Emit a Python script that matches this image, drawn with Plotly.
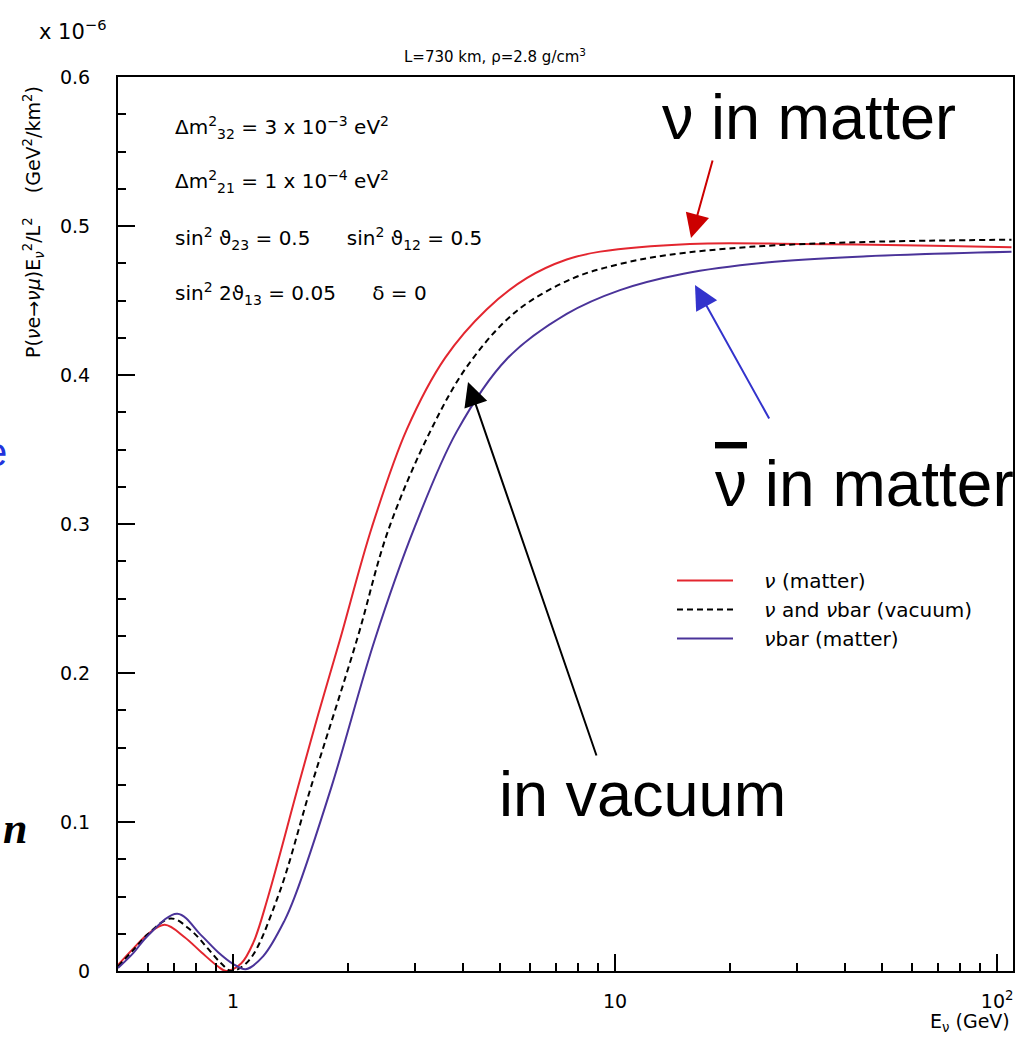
import plotly.graph_objects as go

# ---------------- data (y in units of 1e-6 GeV^2/km^2) -------------
E_nu_matter = [0.50, 0.548, 0.60, 0.663, 0.747, 0.826, 0.914, 0.96, 1.05, 1.13, 1.235, 1.48, 1.67,
               1.905, 2.31, 2.85, 3.59, 4.61, 5.87, 7.47, 9.14, 15.7, 30.5, 68.0, 109.0]
P_nu_matter = [0.004, 0.015, 0.025, 0.031, 0.0227, 0.0126, 0.003, 0.0, 0.005, 0.019, 0.0497, 0.1236, 0.172,
               0.2223, 0.298, 0.3635, 0.4115, 0.444, 0.465, 0.4775, 0.4828, 0.488, 0.488, 0.4867, 0.4857]

E_vacuum = [0.50, 0.548, 0.60, 0.688, 0.778, 0.86, 0.932, 0.99, 1.10, 1.31, 1.60, 2.11,
            2.55, 3.28, 4.13, 5.53, 7.78, 10.3, 13.7, 22.6, 45.6, 109.0]
P_vacuum = [0.003, 0.014, 0.025, 0.0353, 0.027, 0.015, 0.005, 0.0, 0.007, 0.0497, 0.1236, 0.2223,
            0.296, 0.362, 0.407, 0.443, 0.465, 0.4745, 0.4805, 0.486, 0.4893, 0.4908]

E_nubar_matter = [0.50, 0.548, 0.60, 0.715, 0.826, 0.914, 1.0, 1.08, 1.20, 1.365, 1.45, 1.81,
                  2.35, 2.99, 3.85, 5.2, 7.47, 10.3, 15.1, 24.9, 45.6, 109.0]
P_nubar_matter = [0.002, 0.012, 0.024, 0.0385, 0.0239, 0.0126, 0.0048, 0.0012, 0.010, 0.034, 0.0497, 0.1236,
                  0.2223, 0.298, 0.362, 0.4106, 0.441, 0.457, 0.468, 0.4755, 0.4797, 0.4827]

GAP = "\u2002\u2002 "
series_names = [GAP + "<i>ν</i> (matter)", GAP + "<i>ν</i> and <i>ν</i>bar (vacuum)", GAP + "<i>ν</i>bar (matter)"]

x_major_ticks = [1, 10, 100]
x_major_labels = ["1", "10", "10<sup>2</sup>"]
x_minor_ticks = [0.6, 0.7, 0.8, 0.9, 2, 3, 4, 5, 6, 7, 8, 9, 20, 30, 40, 50, 60, 70, 80, 90]
y_ticks = [0, 0.1, 0.2, 0.3, 0.4, 0.5, 0.6]
y_labels = ["0", "0.1", "0.2", "0.3", "0.4", "0.5", "0.6"]

SP = "\u2002\u2002\u2002 "
param_lines = [
    "Δm<sup>2</sup><sub>32</sub> = 3 x 10<sup>−3</sup> eV<sup>2</sup>",
    "Δm<sup>2</sup><sub>21</sub> = 1 x 10<sup>−4</sup> eV<sup>2</sup>",
    "sin<sup>2</sup> ϑ<sub>23</sub> = 0.5" + SP + "sin<sup>2</sup> ϑ<sub>12</sub> = 0.5",
    "sin<sup>2</sup> 2ϑ<sub>13</sub> = 0.05" + SP + "δ = 0",
]

# ---------------- layout geometry (pixels) ----------------
W, H = 1034, 1038
L_, R_, T_, B_ = 118, 1013, 77, 971


def px(x):
    return (x - L_) / (R_ - L_)


def py(y):
    return (B_ - y) / (B_ - T_)


RED = "#e3262f"
BLUE = "#4a3399"
FONT = "DejaVu Sans"

fig = go.Figure()
fig.add_trace(go.Scatter(x=E_nu_matter, y=P_nu_matter, mode="lines", name=series_names[0],
                         line=dict(color=RED, width=2, shape="spline", smoothing=1.0)))
fig.add_trace(go.Scatter(x=E_vacuum, y=P_vacuum, mode="lines", name=series_names[1],
                         line=dict(color="black", width=2, dash="6px,4px", shape="spline", smoothing=1.0)))
fig.add_trace(go.Scatter(x=E_nubar_matter, y=P_nubar_matter, mode="lines", name=series_names[2],
                         line=dict(color=BLUE, width=2, shape="spline", smoothing=1.0)))

fig.update_layout(
    width=W, height=H,
    margin=dict(l=L_, r=W - R_, t=T_, b=H - B_, pad=0),
    paper_bgcolor="white", plot_bgcolor="white",
    font=dict(family=FONT, color="black", size=17),
    showlegend=True,
    legend=dict(x=px(672), y=py(561), xanchor="left", yanchor="top",
                bgcolor="rgba(0,0,0,0)", borderwidth=0,
                font=dict(family=FONT, size=20), itemwidth=56, tracegroupgap=0),
)

fig.update_xaxes(
    type="log", range=[-0.30103, 2.0414],
    tickmode="array", tickvals=x_major_ticks, ticktext=x_major_labels,
    ticks="inside", ticklen=17, tickwidth=1.5, tickcolor="black",
    ticklabelstandoff=12,
    minor=dict(tickmode="array", tickvals=x_minor_ticks, ticks="inside", ticklen=8,
               tickwidth=1.5, tickcolor="black", showgrid=False),
    showgrid=False, zeroline=False,
    showline=True, linecolor="black", linewidth=2, mirror=True,
    tickfont=dict(family=FONT, size=19),
)
fig.update_yaxes(
    range=[0, 0.6],
    tickmode="array", tickvals=y_ticks, ticktext=y_labels,
    ticks="inside", ticklen=17, tickwidth=1.5, tickcolor="black",
    ticklabelstandoff=22,
    minor=dict(dtick=0.025, tick0=0, ticks="inside", ticklen=8, tickwidth=1.5,
               tickcolor="black", showgrid=False),
    showgrid=False, zeroline=False,
    showline=True, linecolor="black", linewidth=2, mirror=True,
    tickfont=dict(family=FONT, size=19),
)

ann = []


def text(x, y, s, size, xanchor="left", yanchor="middle", family=FONT, color="black", angle=0):
    ann.append(dict(x=px(x), y=py(y), xref="paper", yref="paper", text=s, showarrow=False,
                    xanchor=xanchor, yanchor=yanchor, textangle=angle,
                    font=dict(family=family, size=size, color=color)))


# axis exponent and titles
text(37, 30, "x 10<sup>−6</sup>", 21)
text(495, 56, "L=730 km, ρ=2.8 g/cm<sup>3</sup>", 15, xanchor="center")
text(1012, 1022, "E<sub>ν</sub> (GeV)", 19, xanchor="right")
text(33, 222, "P(<i>ν</i>e→<i>νμ</i>)E<sub><i>ν</i></sub><sup>2</sup>/L<sup>2</sup>    (GeV<sup>2</sup>/km<sup>2</sup>)",
     19, xanchor="center", angle=-90)

# parameter block
for yy, s in zip([128, 181, 238, 293], param_lines):
    text(173, yy, s, 20)

# big slide labels
BIG = "Liberation Sans"
text(660, 117, "ν in matter", 63, family=BIG)
text(1016, 484, "<span style='text-decoration:overline'>ν</span> in matter", 64, xanchor="right", family=BIG)
text(497, 794, "in vacuum", 63, family=BIG)

# cropped fragments of slide text at the left edge
text(9, 452, "e", 40, xanchor="right", family="Liberation Sans", color="#2233dd")
text(1, 828, "<b><i>n</i></b>", 44, xanchor="left", family="Liberation Serif")


def arrow(tipx, tipy, tailx, taily, color, size=2.4):
    ann.append(dict(x=px(tipx), y=py(tipy), xref="paper", yref="paper", text="",
                    showarrow=True, ax=tailx - tipx, ay=taily - tipy,
                    arrowhead=2, arrowsize=size, arrowwidth=2, arrowcolor=color, standoff=0))


arrow(691, 238, 713, 159, "#cc0000")
arrow(695, 285, 770, 420, "#3333cc")
arrow(468, 382, 597, 757, "black")

fig.update_layout(annotations=ann)

fig.write_html("out.html")
